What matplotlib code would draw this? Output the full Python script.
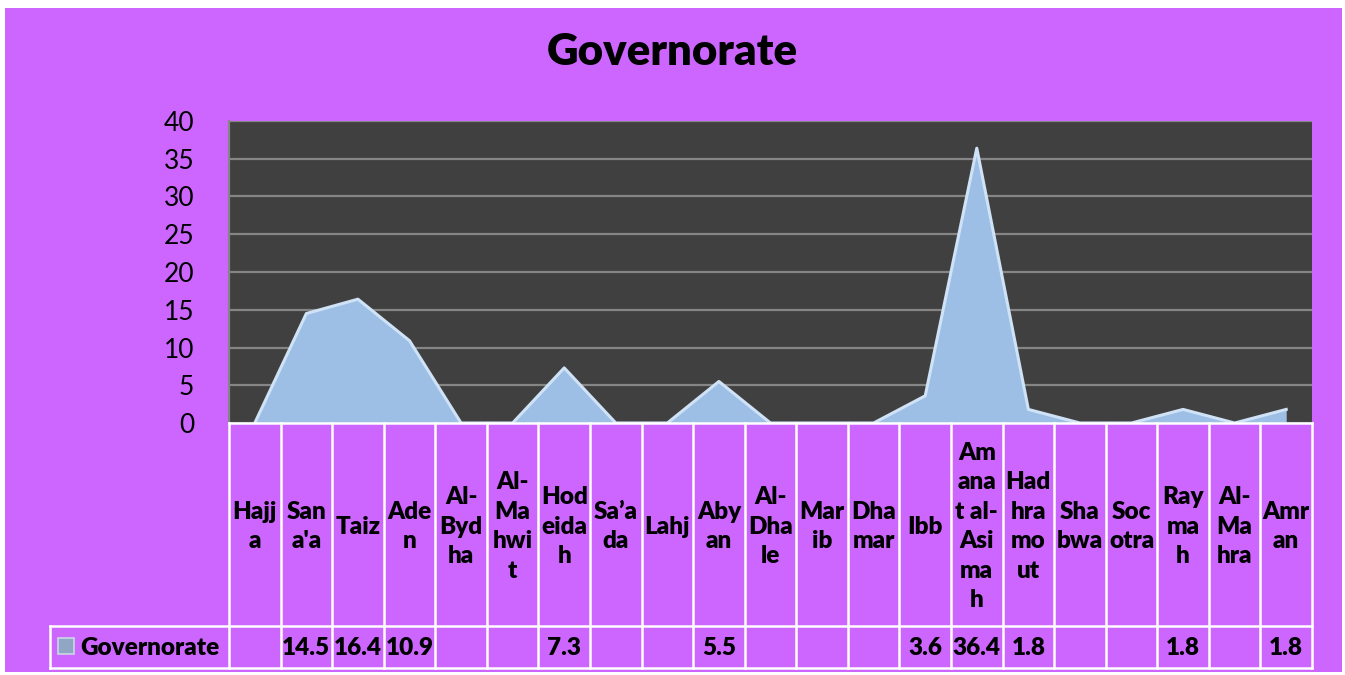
import numpy as np
import matplotlib.pyplot as plt
from matplotlib.patches import Rectangle

# data
governorates = ["Hajja", "San'a", "Taiz", "Aden", "Al-Bydha", "Al-Mahwit",
                "Hodeidah", "Sa’ada", "Lahj", "Abyan", "Al-Dhale", "Marib",
                "Dhamar", "Ibb", "Amanat al-Asimah", "Hadhramout", "Shabwa",
                "Socotra", "Raymah", "Al-Mahra", "Amran"]
# labels as they wrap inside the narrow table cells
wrapped_labels = ["Hajj\na", "San\na'a", "Taiz", "Ade\nn", "Al-\nByd\nha",
                  "Al-\nMa\nhwi\nt", "Hod\neida\nh", "Sa’a\nda", "Lahj",
                  "Aby\nan", "Al-\nDha\nle", "Mar\nib", "Dha\nmar", "Ibb",
                  "Am\nana\nt al-\nAsi\nma\nh", "Had\nhra\nmo\nut", "Sha\nbwa",
                  "Soc\notra", "Ray\nma\nh", "Al-\nMa\nhra", "Amr\nan"]
values = [None, 14.5, 16.4, 10.9, None, None, 7.3, None, None, 5.5, None,
          None, None, 3.6, 36.4, 1.8, None, None, 1.8, None, 1.8]
series_name = "Governorate"

PURPLE = "#CC66FF"
PLOT_BG = "#404040"
AREA = "#9DBFE5"
FONT = ["Lato", "DejaVu Sans"]
TXT = 17.5
WEIGHT = "heavy"

W, H = 1345, 675
fig = plt.figure(figsize=(W / 100, H / 100), dpi=100, facecolor="white")
plt.rcParams["font.family"] = FONT

# purple chart area (thin white margin around it)
fig.patches.append(Rectangle((5 / W, 3 / H), 1337 / W, 664 / H,
                             transform=fig.transFigure, facecolor=PURPLE,
                             edgecolor="none", zorder=-10))

# pixel layout
x0, x1 = 229, 1312
y_top, y_zero, y_row, y_bot = 121, 423, 626, 668
leg_left = 50

ax = fig.add_axes([x0 / W, 1 - y_zero / H, (x1 - x0) / W, (y_zero - y_top) / H])
tab = fig.add_axes([x0 / W, 1 - y_bot / H, (x1 - x0) / W, (y_bot - y_zero) / H],
                   sharex=ax)

n = len(governorates)
x = np.arange(n)
y = np.array([0 if v is None else v for v in values], dtype=float)

ax.set_facecolor(PLOT_BG)
ax.set_xlim(-0.5, n - 0.5)
ax.set_ylim(0, 40)
ax.set_yticks(np.arange(0, 41, 5))
ax.yaxis.grid(True, color="#858585", linewidth=1.6)
ax.set_axisbelow(True)
for s in ["top", "right", "bottom"]:
    ax.spines[s].set_visible(False)
ax.spines["left"].set_color("#858585")
ax.spines["left"].set_linewidth(1.6)
ax.tick_params(axis="y", length=0, pad=25, labelsize=19, labelcolor="black")
ax.tick_params(axis="x", bottom=False, labelbottom=False)

# area with a soft bevel on the top edge
ax.fill_between(x, 0, y, color=AREA, zorder=3, linewidth=0)
ax.plot(x, y, color="#CFE2F6", linewidth=2.2, zorder=4)

# data table below the plot
tab.set_xlim(-0.5, n - 0.5)
tab.set_ylim(y_bot - y_zero, 0)
tab.axis("off")
tab.set_facecolor("none")

colw = (x1 - x0) / n
x_leg = -0.5 - (x0 - leg_left) / colw
r_row = y_row - y_zero
r_bot = y_bot - y_zero
lk = dict(color="white", linewidth=1.8, clip_on=False, solid_capstyle="projecting")

tab.plot([-0.5, n - 0.5], [0, 0], **lk)
tab.plot([x_leg, n - 0.5], [r_row, r_row], **lk)
tab.plot([x_leg, n - 0.5], [r_bot, r_bot], **lk)
tab.plot([x_leg, x_leg], [r_row, r_bot], **lk)
for b in np.arange(n + 1) - 0.5:
    tab.plot([b, b], [0, r_bot], **lk)

for i, lab in enumerate(wrapped_labels):
    tab.text(i, r_row / 2 + 2, lab, ha="center", va="center", fontsize=TXT,
             fontweight=WEIGHT, linespacing=1.42, color="black", clip_on=False)
    if values[i] is not None:
        tab.text(i, (r_row + r_bot) / 2 + 1, f"{values[i]:.1f}", ha="center",
                 va="center", fontsize=TXT, fontweight=WEIGHT, color="black")

# legend key + series name
fig.patches.append(Rectangle((58 / W, 1 - 654 / H), 16 / W, 16 / H,
                             transform=fig.transFigure, facecolor="#8FA7C4",
                             edgecolor="#C9D6E6", linewidth=1.2))
fig.text(80 / W, 1 - 648 / H, series_name, ha="left", va="center",
         fontsize=TXT, fontweight=WEIGHT, color="black")

fig.text(0.5, 1 - 52 / H, "Governorate", ha="center", va="center",
         fontsize=31.5, fontweight=WEIGHT, color="black")

fig.savefig("out.png", dpi=100, facecolor="white")
